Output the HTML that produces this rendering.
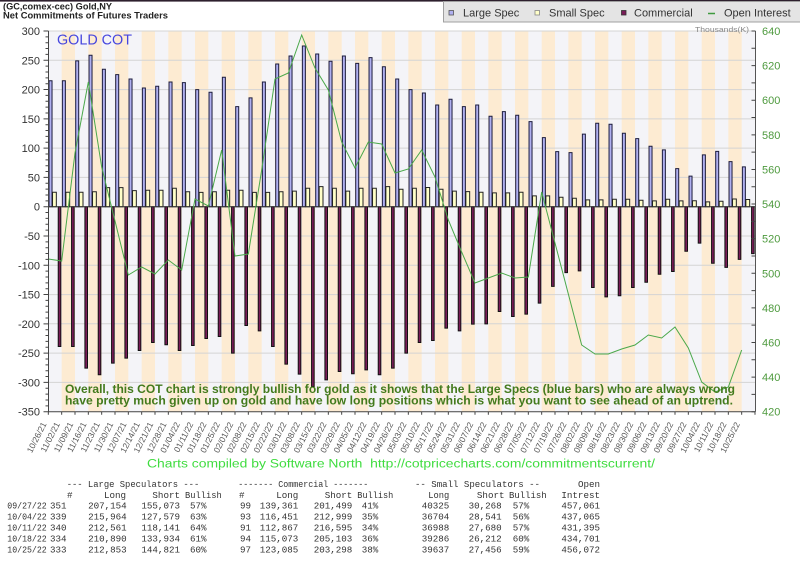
<!DOCTYPE html>
<html><head><meta charset="utf-8"><style>
html,body{margin:0;padding:0;background:#fff;}
svg{display:block;}
.b{fill:#b0b0f0;stroke:#1c1c3c;stroke-width:1;vector-effect:non-scaling-stroke}
.s{fill:#ffffc8;stroke:#222;stroke-width:1;vector-effect:non-scaling-stroke}
.c{fill:#7a1c58;stroke:#111;stroke-width:1;vector-effect:non-scaling-stroke}
.t{font-family:"Liberation Mono",monospace;font-size:9.2px;fill:#333}
.dl{font-family:"Liberation Sans",sans-serif;font-size:8.5px;fill:#555}
</style></head><body>
<svg width="800" height="562" viewBox="0 0 800 562" xmlns="http://www.w3.org/2000/svg">
<defs>
<pattern id="bd" patternUnits="userSpaceOnUse" x="48.33" y="0" width="26.667" height="562"><rect width="13.334" height="562" fill="#f4f4f8"/><rect x="13.333" width="13.334" height="562" fill="#fdebd2"/></pattern>
</defs>
<rect x="0" y="0" width="800" height="562" fill="#fff"/>
<rect x="0" y="0" width="800" height="1.6" fill="#2d1f2d"/>
<!-- legend -->
<rect x="443.5" y="1.5" width="358" height="20.5" fill="#e4e4e4" stroke="#a0a0a0"/>
<rect x="449" y="10.5" width="4.5" height="4.5" fill="#b0b0f0" stroke="#555" stroke-width="0.8"/>
<text x="463" y="16.5" font-family="Liberation Sans, sans-serif" font-size="11" fill="#333">Large Spec</text>
<rect x="535" y="10.5" width="4.5" height="4.5" fill="#ffffc8" stroke="#888" stroke-width="0.8"/>
<text x="549" y="16.5" font-family="Liberation Sans, sans-serif" font-size="11" fill="#333">Small Spec</text>
<rect x="621.5" y="10.5" width="4.5" height="4.5" fill="#7a1c58" stroke="#333" stroke-width="0.8"/>
<text x="634" y="16.5" font-family="Liberation Sans, sans-serif" font-size="11" fill="#333">Commercial</text>
<line x1="708" y1="13.5" x2="715" y2="13.5" stroke="#3f9a3f" stroke-width="1.5"/>
<text x="724" y="16.5" font-family="Liberation Sans, sans-serif" font-size="11" fill="#333">Open Interest</text>
<!-- titles -->
<text x="3" y="9.5" font-family="Liberation Sans, sans-serif" font-size="9.5" font-weight="bold" fill="#222" textLength="109" lengthAdjust="spacingAndGlyphs">(GC,comex-cec) Gold,NY</text>
<text x="3" y="18.5" font-family="Liberation Sans, sans-serif" font-size="9.5" font-weight="bold" fill="#222" textLength="165" lengthAdjust="spacingAndGlyphs">Net Commitments of Futures Traders</text>
<!-- plot background -->
<rect x="48.33" y="31" width="706.67" height="380.7" fill="url(#bd)"/>
<path d="M48.3 31H755M48.3 60.3H755M48.3 89.6H755M48.3 118.9H755M48.3 148.1H755M48.3 177.4H755M48.3 236H755M48.3 265.3H755M48.3 294.6H755M48.3 323.8H755M48.3 353.1H755M48.3 382.4H755" stroke="#d4d4d4" stroke-width="1" fill="none"/>
<text x="57" y="44.5" font-family="Liberation Sans, sans-serif" font-size="15" fill="#4646de" textLength="75" lengthAdjust="spacingAndGlyphs">GOLD COT</text>
<text x="695" y="32" font-family="Liberation Sans, sans-serif" font-size="7.5" fill="#888" textLength="54" lengthAdjust="spacingAndGlyphs">Thousands(K)</text>
<!-- bars -->
<g transform="translate(48.33 206.7) scale(1 -0.5857)"><rect class="b" x="0.7" y="0" width="3" height="215"/><rect class="s" x="4.2" y="0" width="3.8" height="24.7"/><rect class="c" x="9.9" y="-238.7" width="2.6" height="238.7"/></g>
<g transform="translate(61.67 206.7) scale(1 -0.5857)"><rect class="b" x="0.7" y="0" width="3" height="215"/><rect class="s" x="4.2" y="0" width="3.8" height="24.7"/><rect class="c" x="9.9" y="-238.7" width="2.6" height="238.7"/></g>
<g transform="translate(75 206.7) scale(1 -0.5857)"><rect class="b" x="0.7" y="0" width="3" height="249"/><rect class="s" x="4.2" y="0" width="3.8" height="24.7"/><rect class="c" x="9.9" y="-275.6" width="2.6" height="275.6"/></g>
<g transform="translate(88.33 206.7) scale(1 -0.5857)"><rect class="b" x="0.7" y="0" width="3" height="258.5"/><rect class="s" x="4.2" y="0" width="3.8" height="25.5"/><rect class="c" x="9.9" y="-287" width="2.6" height="287"/></g>
<g transform="translate(101.67 206.7) scale(1 -0.5857)"><rect class="b" x="0.7" y="0" width="3" height="234.6"/><rect class="s" x="4.2" y="0" width="3.8" height="32.6"/><rect class="c" x="9.9" y="-267" width="2.6" height="267"/></g>
<g transform="translate(115 206.7) scale(1 -0.5857)"><rect class="b" x="0.7" y="0" width="3" height="225.5"/><rect class="s" x="4.2" y="0" width="3.8" height="32.6"/><rect class="c" x="9.9" y="-258.5" width="2.6" height="258.5"/></g>
<g transform="translate(128.33 206.7) scale(1 -0.5857)"><rect class="b" x="0.7" y="0" width="3" height="218"/><rect class="s" x="4.2" y="0" width="3.8" height="27.5"/><rect class="c" x="9.9" y="-245.5" width="2.6" height="245.5"/></g>
<g transform="translate(141.67 206.7) scale(1 -0.5857)"><rect class="b" x="0.7" y="0" width="3" height="202.7"/><rect class="s" x="4.2" y="0" width="3.8" height="28"/><rect class="c" x="9.9" y="-231.9" width="2.6" height="231.9"/></g>
<g transform="translate(155 206.7) scale(1 -0.5857)"><rect class="b" x="0.7" y="0" width="3" height="205.6"/><rect class="s" x="4.2" y="0" width="3.8" height="28"/><rect class="c" x="9.9" y="-235.8" width="2.6" height="235.8"/></g>
<g transform="translate(168.33 206.7) scale(1 -0.5857)"><rect class="b" x="0.7" y="0" width="3" height="213"/><rect class="s" x="4.2" y="0" width="3.8" height="31.5"/><rect class="c" x="9.9" y="-245.5" width="2.6" height="245.5"/></g>
<g transform="translate(181.67 206.7) scale(1 -0.5857)"><rect class="b" x="0.7" y="0" width="3" height="211.8"/><rect class="s" x="4.2" y="0" width="3.8" height="25.5"/><rect class="c" x="9.9" y="-237" width="2.6" height="237"/></g>
<g transform="translate(195 206.7) scale(1 -0.5857)"><rect class="b" x="0.7" y="0" width="3" height="199.9"/><rect class="s" x="4.2" y="0" width="3.8" height="24.5"/><rect class="c" x="9.9" y="-225" width="2.6" height="225"/></g>
<g transform="translate(208.33 206.7) scale(1 -0.5857)"><rect class="b" x="0.7" y="0" width="3" height="195.4"/><rect class="s" x="4.2" y="0" width="3.8" height="25.5"/><rect class="c" x="9.9" y="-221.6" width="2.6" height="221.6"/></g>
<g transform="translate(221.67 206.7) scale(1 -0.5857)"><rect class="b" x="0.7" y="0" width="3" height="221"/><rect class="s" x="4.2" y="0" width="3.8" height="28"/><rect class="c" x="9.9" y="-250" width="2.6" height="250"/></g>
<g transform="translate(235 206.7) scale(1 -0.5857)"><rect class="b" x="0.7" y="0" width="3" height="170.8"/><rect class="s" x="4.2" y="0" width="3.8" height="28"/><rect class="c" x="9.9" y="-202.8" width="2.6" height="202.8"/></g>
<g transform="translate(248.33 206.7) scale(1 -0.5857)"><rect class="b" x="0.7" y="0" width="3" height="185.7"/><rect class="s" x="4.2" y="0" width="3.8" height="24.5"/><rect class="c" x="9.9" y="-212" width="2.6" height="212"/></g>
<g transform="translate(261.67 206.7) scale(1 -0.5857)"><rect class="b" x="0.7" y="0" width="3" height="213"/><rect class="s" x="4.2" y="0" width="3.8" height="24.5"/><rect class="c" x="9.9" y="-238.7" width="2.6" height="238.7"/></g>
<g transform="translate(275 206.7) scale(1 -0.5857)"><rect class="b" x="0.7" y="0" width="3" height="243.7"/><rect class="s" x="4.2" y="0" width="3.8" height="25.5"/><rect class="c" x="9.9" y="-268.8" width="2.6" height="268.8"/></g>
<g transform="translate(288.33 206.7) scale(1 -0.5857)"><rect class="b" x="0.7" y="0" width="3" height="257.3"/><rect class="s" x="4.2" y="0" width="3.8" height="26.5"/><rect class="c" x="9.9" y="-285.8" width="2.6" height="285.8"/></g>
<g transform="translate(301.67 206.7) scale(1 -0.5857)"><rect class="b" x="0.7" y="0" width="3" height="274.4"/><rect class="s" x="4.2" y="0" width="3.8" height="31.5"/><rect class="c" x="9.9" y="-307" width="2.6" height="307"/></g>
<g transform="translate(315 206.7) scale(1 -0.5857)"><rect class="b" x="0.7" y="0" width="3" height="260.8"/><rect class="s" x="4.2" y="0" width="3.8" height="34.3"/><rect class="c" x="9.9" y="-295.6" width="2.6" height="295.6"/></g>
<g transform="translate(328.33 206.7) scale(1 -0.5857)"><rect class="b" x="0.7" y="0" width="3" height="248.3"/><rect class="s" x="4.2" y="0" width="3.8" height="31.5"/><rect class="c" x="9.9" y="-281.4" width="2.6" height="281.4"/></g>
<g transform="translate(341.67 206.7) scale(1 -0.5857)"><rect class="b" x="0.7" y="0" width="3" height="257.3"/><rect class="s" x="4.2" y="0" width="3.8" height="26.5"/><rect class="c" x="9.9" y="-285.3" width="2.6" height="285.3"/></g>
<g transform="translate(355 206.7) scale(1 -0.5857)"><rect class="b" x="0.7" y="0" width="3" height="244.8"/><rect class="s" x="4.2" y="0" width="3.8" height="31.5"/><rect class="c" x="9.9" y="-278.5" width="2.6" height="278.5"/></g>
<g transform="translate(368.33 206.7) scale(1 -0.5857)"><rect class="b" x="0.7" y="0" width="3" height="254.5"/><rect class="s" x="4.2" y="0" width="3.8" height="31.5"/><rect class="c" x="9.9" y="-287" width="2.6" height="287"/></g>
<g transform="translate(381.67 206.7) scale(1 -0.5857)"><rect class="b" x="0.7" y="0" width="3" height="239"/><rect class="s" x="4.2" y="0" width="3.8" height="34.3"/><rect class="c" x="9.9" y="-275.6" width="2.6" height="275.6"/></g>
<g transform="translate(395 206.7) scale(1 -0.5857)"><rect class="b" x="0.7" y="0" width="3" height="218"/><rect class="s" x="4.2" y="0" width="3.8" height="29.8"/><rect class="c" x="9.9" y="-250" width="2.6" height="250"/></g>
<g transform="translate(408.33 206.7) scale(1 -0.5857)"><rect class="b" x="0.7" y="0" width="3" height="199.9"/><rect class="s" x="4.2" y="0" width="3.8" height="31.5"/><rect class="c" x="9.9" y="-231.9" width="2.6" height="231.9"/></g>
<g transform="translate(421.67 206.7) scale(1 -0.5857)"><rect class="b" x="0.7" y="0" width="3" height="194.2"/><rect class="s" x="4.2" y="0" width="3.8" height="32.8"/><rect class="c" x="9.9" y="-228.5" width="2.6" height="228.5"/></g>
<g transform="translate(435 206.7) scale(1 -0.5857)"><rect class="b" x="0.7" y="0" width="3" height="173.7"/><rect class="s" x="4.2" y="0" width="3.8" height="29.8"/><rect class="c" x="9.9" y="-207.4" width="2.6" height="207.4"/></g>
<g transform="translate(448.33 206.7) scale(1 -0.5857)"><rect class="b" x="0.7" y="0" width="3" height="183.4"/><rect class="s" x="4.2" y="0" width="3.8" height="26.5"/><rect class="c" x="9.9" y="-212" width="2.6" height="212"/></g>
<g transform="translate(461.67 206.7) scale(1 -0.5857)"><rect class="b" x="0.7" y="0" width="3" height="170.8"/><rect class="s" x="4.2" y="0" width="3.8" height="25.8"/><rect class="c" x="9.9" y="-200.5" width="2.6" height="200.5"/></g>
<g transform="translate(475 206.7) scale(1 -0.5857)"><rect class="b" x="0.7" y="0" width="3" height="173.7"/><rect class="s" x="4.2" y="0" width="3.8" height="24.7"/><rect class="c" x="9.9" y="-200" width="2.6" height="200"/></g>
<g transform="translate(488.33 206.7) scale(1 -0.5857)"><rect class="b" x="0.7" y="0" width="3" height="154.4"/><rect class="s" x="4.2" y="0" width="3.8" height="23.5"/><rect class="c" x="9.9" y="-179" width="2.6" height="179"/></g>
<g transform="translate(501.67 206.7) scale(1 -0.5857)"><rect class="b" x="0.7" y="0" width="3" height="162.3"/><rect class="s" x="4.2" y="0" width="3.8" height="23.5"/><rect class="c" x="9.9" y="-187.5" width="2.6" height="187.5"/></g>
<g transform="translate(515 206.7) scale(1 -0.5857)"><rect class="b" x="0.7" y="0" width="3" height="156.1"/><rect class="s" x="4.2" y="0" width="3.8" height="24.7"/><rect class="c" x="9.9" y="-183.5" width="2.6" height="183.5"/></g>
<g transform="translate(528.33 206.7) scale(1 -0.5857)"><rect class="b" x="0.7" y="0" width="3" height="145.3"/><rect class="s" x="4.2" y="0" width="3.8" height="18.4"/><rect class="c" x="9.9" y="-164.7" width="2.6" height="164.7"/></g>
<g transform="translate(541.67 206.7) scale(1 -0.5857)"><rect class="b" x="0.7" y="0" width="3" height="118"/><rect class="s" x="4.2" y="0" width="3.8" height="18.4"/><rect class="c" x="9.9" y="-136" width="2.6" height="136"/></g>
<g transform="translate(555 206.7) scale(1 -0.5857)"><rect class="b" x="0.7" y="0" width="3" height="94"/><rect class="s" x="4.2" y="0" width="3.8" height="16.2"/><rect class="c" x="9.9" y="-112.5" width="2.6" height="112.5"/></g>
<g transform="translate(568.33 206.7) scale(1 -0.5857)"><rect class="b" x="0.7" y="0" width="3" height="92.3"/><rect class="s" x="4.2" y="0" width="3.8" height="14.5"/><rect class="c" x="9.9" y="-109.6" width="2.6" height="109.6"/></g>
<g transform="translate(581.67 206.7) scale(1 -0.5857)"><rect class="b" x="0.7" y="0" width="3" height="124"/><rect class="s" x="4.2" y="0" width="3.8" height="11.6"/><rect class="c" x="9.9" y="-138" width="2.6" height="138"/></g>
<g transform="translate(595 206.7) scale(1 -0.5857)"><rect class="b" x="0.7" y="0" width="3" height="142.4"/><rect class="s" x="4.2" y="0" width="3.8" height="11.6"/><rect class="c" x="9.9" y="-154" width="2.6" height="154"/></g>
<g transform="translate(608.33 206.7) scale(1 -0.5857)"><rect class="b" x="0.7" y="0" width="3" height="140.7"/><rect class="s" x="4.2" y="0" width="3.8" height="12.7"/><rect class="c" x="9.9" y="-152" width="2.6" height="152"/></g>
<g transform="translate(621.67 206.7) scale(1 -0.5857)"><rect class="b" x="0.7" y="0" width="3" height="125.4"/><rect class="s" x="4.2" y="0" width="3.8" height="12.7"/><rect class="c" x="9.9" y="-138" width="2.6" height="138"/></g>
<g transform="translate(635 206.7) scale(1 -0.5857)"><rect class="b" x="0.7" y="0" width="3" height="116.3"/><rect class="s" x="4.2" y="0" width="3.8" height="11"/><rect class="c" x="9.9" y="-129" width="2.6" height="129"/></g>
<g transform="translate(648.33 206.7) scale(1 -0.5857)"><rect class="b" x="0.7" y="0" width="3" height="103.2"/><rect class="s" x="4.2" y="0" width="3.8" height="10"/><rect class="c" x="9.9" y="-115.3" width="2.6" height="115.3"/></g>
<g transform="translate(661.67 206.7) scale(1 -0.5857)"><rect class="b" x="0.7" y="0" width="3" height="97"/><rect class="s" x="4.2" y="0" width="3.8" height="12.7"/><rect class="c" x="9.9" y="-110.7" width="2.6" height="110.7"/></g>
<g transform="translate(675 206.7) scale(1 -0.5857)"><rect class="b" x="0.7" y="0" width="3" height="65"/><rect class="s" x="4.2" y="0" width="3.8" height="10"/><rect class="c" x="9.9" y="-76" width="2.6" height="76"/></g>
<g transform="translate(688.33 206.7) scale(1 -0.5857)"><rect class="b" x="0.7" y="0" width="3" height="52.1"/><rect class="s" x="4.2" y="0" width="3.8" height="10.1"/><rect class="c" x="9.9" y="-62.1" width="2.6" height="62.1"/></g>
<g transform="translate(701.67 206.7) scale(1 -0.5857)"><rect class="b" x="0.7" y="0" width="3" height="88.4"/><rect class="s" x="4.2" y="0" width="3.8" height="8.2"/><rect class="c" x="9.9" y="-96.5" width="2.6" height="96.5"/></g>
<g transform="translate(715 206.7) scale(1 -0.5857)"><rect class="b" x="0.7" y="0" width="3" height="94.4"/><rect class="s" x="4.2" y="0" width="3.8" height="9.3"/><rect class="c" x="9.9" y="-103.7" width="2.6" height="103.7"/></g>
<g transform="translate(728.33 206.7) scale(1 -0.5857)"><rect class="b" x="0.7" y="0" width="3" height="77"/><rect class="s" x="4.2" y="0" width="3.8" height="13.1"/><rect class="c" x="9.9" y="-90" width="2.6" height="90"/></g>
<g transform="translate(741.67 206.7) scale(1 -0.5857)"><rect class="b" x="0.7" y="0" width="3" height="68"/><rect class="s" x="4.2" y="0" width="3.8" height="12.2"/><rect class="c" x="9.9" y="-80.2" width="2.6" height="80.2"/></g>
<!-- zero line -->
<line x1="48.3" y1="206.7" x2="755" y2="206.7" stroke="#333" stroke-width="1"/>
<!-- open interest -->
<polyline fill="none" stroke="#4aa84a" stroke-width="1" points="48.33,259 61.67,261 75,153 88.33,82 101.67,167 115,221 128.33,275 141.67,267 155,274 168.33,260 181.67,270 195,199 208.33,206 221.67,150 235,256 248.33,254 261.67,170 275,79 288.33,73 301.67,35 315,68 328.33,90 341.67,142 355,168 368.33,142 381.67,144 395,173 408.33,169 421.67,150 435,177 448.33,220 461.67,252 475,283 488.33,278 501.67,273 515,278 528.33,277 541.67,192 555,243 568.33,294 581.67,345 595,354 608.33,354 621.67,349 635,345 648.33,335 661.67,338 675,327 688.33,348 701.67,382 715,392 728.33,387 741.67,350"/>
<!-- overlay text -->
<text x="65" y="393" font-family="Liberation Sans, sans-serif" font-size="12" font-weight="bold" fill="#437a1d" textLength="670" lengthAdjust="spacingAndGlyphs">Overall, this COT chart is strongly bullish for gold as it shows that the Large Specs (blue bars) who are always wrong</text>
<text x="65" y="404.5" font-family="Liberation Sans, sans-serif" font-size="12" font-weight="bold" fill="#437a1d" textLength="668" lengthAdjust="spacingAndGlyphs">have pretty much given up on gold and have low long positions which is what you want to see ahead of an uptrend.</text>
<!-- axes -->
<line x1="48.5" y1="31" x2="48.5" y2="411.7" stroke="#444" stroke-width="1"/>
<line x1="48.3" y1="411.7" x2="755.5" y2="411.7" stroke="#444" stroke-width="1"/>
<line x1="755.5" y1="31" x2="755.5" y2="411.7" stroke="#555" stroke-width="1"/>
<g transform="translate(48.5 206.7) scale(1 -0.5857)"><path fill="none" stroke="#444" stroke-width="1" vector-effect="non-scaling-stroke" d="M-5 300h5M-3 290h3M-3 280h3M-3 270h3M-3 260h3M-5 250h5M-3 240h3M-3 230h3M-3 220h3M-3 210h3M-5 200h5M-3 190h3M-3 180h3M-3 170h3M-3 160h3M-5 150h5M-3 140h3M-3 130h3M-3 120h3M-3 110h3M-5 100h5M-3 90h3M-3 80h3M-3 70h3M-3 60h3M-5 50h5M-3 40h3M-3 30h3M-3 20h3M-3 10h3M-5 0h5M-3 -10h3M-3 -20h3M-3 -30h3M-3 -40h3M-5 -50h5M-3 -60h3M-3 -70h3M-3 -80h3M-3 -90h3M-5 -100h5M-3 -110h3M-3 -120h3M-3 -130h3M-3 -140h3M-5 -150h5M-3 -160h3M-3 -170h3M-3 -180h3M-3 -190h3M-5 -200h5M-3 -210h3M-3 -220h3M-3 -230h3M-3 -240h3M-5 -250h5M-3 -260h3M-3 -270h3M-3 -280h3M-3 -290h3M-5 -300h5M-3 -310h3M-3 -320h3M-3 -330h3M-3 -340h3M-5 -350h5"/></g>
<g transform="translate(755.5 31) scale(1 1.7305)"><path fill="none" stroke="#444" stroke-width="1" vector-effect="non-scaling-stroke" d="M-4 0h4M-4 10h4M-4 20h4M-4 30h4M-4 40h4M-4 50h4M-4 60h4M-4 70h4M-4 80h4M-4 90h4M-4 100h4M-4 110h4M-4 120h4M-4 130h4M-4 140h4M-4 150h4M-4 160h4M-4 170h4M-4 180h4M-4 190h4M-4 200h4M-4 210h4M-4 220h4"/></g>
<path fill="none" stroke="#444" stroke-width="1" d="M48.33 411.7v3M61.67 411.7v3M75 411.7v3M88.33 411.7v3M101.67 411.7v3M115 411.7v3M128.33 411.7v3M141.67 411.7v3M155 411.7v3M168.33 411.7v3M181.67 411.7v3M195 411.7v3M208.33 411.7v3M221.67 411.7v3M235 411.7v3M248.33 411.7v3M261.67 411.7v3M275 411.7v3M288.33 411.7v3M301.67 411.7v3M315 411.7v3M328.33 411.7v3M341.67 411.7v3M355 411.7v3M368.33 411.7v3M381.67 411.7v3M395 411.7v3M408.33 411.7v3M421.67 411.7v3M435 411.7v3M448.33 411.7v3M461.67 411.7v3M475 411.7v3M488.33 411.7v3M501.67 411.7v3M515 411.7v3M528.33 411.7v3M541.67 411.7v3M555 411.7v3M568.33 411.7v3M581.67 411.7v3M595 411.7v3M608.33 411.7v3M621.67 411.7v3M635 411.7v3M648.33 411.7v3M661.67 411.7v3M675 411.7v3M688.33 411.7v3M701.67 411.7v3M715 411.7v3M728.33 411.7v3M741.67 411.7v3M755 411.7v3"/>
<!-- left labels -->
<g font-family="Liberation Sans, sans-serif" font-size="11" fill="#333" text-anchor="end">
<text x="40" y="35">300</text><text x="40" y="64.3">250</text><text x="40" y="93.6">200</text><text x="40" y="122.9">150</text><text x="40" y="152.1">100</text><text x="40" y="181.4">50</text><text x="40" y="210.7">0</text><text x="40" y="240">-50</text><text x="40" y="269.3">-100</text><text x="40" y="298.6">-150</text><text x="40" y="327.8">-200</text><text x="40" y="357.1">-250</text><text x="40" y="386.4">-300</text><text x="40" y="415.7">-350</text>
</g>
<!-- right labels -->
<g font-family="Liberation Sans, sans-serif" font-size="11" fill="#4e9a3e">
<text x="762" y="35">640</text><text x="762" y="69.6">620</text><text x="762" y="104.2">600</text><text x="762" y="138.8">580</text><text x="762" y="173.4">560</text><text x="762" y="208.1">540</text><text x="762" y="242.7">520</text><text x="762" y="277.3">500</text><text x="762" y="311.9">480</text><text x="762" y="346.5">460</text><text x="762" y="381.1">440</text><text x="762" y="415.7">420</text>
</g>
<!-- date labels -->
<g class="dl" text-anchor="end">
<text transform="translate(46.8 424) rotate(-63)">10/26/21</text>
<text transform="translate(60.2 424) rotate(-63)">11/02/21</text>
<text transform="translate(73.5 424) rotate(-63)">11/09/21</text>
<text transform="translate(86.8 424) rotate(-63)">11/16/21</text>
<text transform="translate(100.2 424) rotate(-63)">11/23/21</text>
<text transform="translate(113.5 424) rotate(-63)">11/30/21</text>
<text transform="translate(126.8 424) rotate(-63)">12/07/21</text>
<text transform="translate(140.2 424) rotate(-63)">12/14/21</text>
<text transform="translate(153.5 424) rotate(-63)">12/21/21</text>
<text transform="translate(166.8 424) rotate(-63)">12/28/21</text>
<text transform="translate(180.2 424) rotate(-63)">01/04/22</text>
<text transform="translate(193.5 424) rotate(-63)">01/11/22</text>
<text transform="translate(206.8 424) rotate(-63)">01/18/22</text>
<text transform="translate(220.2 424) rotate(-63)">01/25/22</text>
<text transform="translate(233.5 424) rotate(-63)">02/01/22</text>
<text transform="translate(246.8 424) rotate(-63)">02/08/22</text>
<text transform="translate(260.2 424) rotate(-63)">02/15/22</text>
<text transform="translate(273.5 424) rotate(-63)">02/22/22</text>
<text transform="translate(286.8 424) rotate(-63)">03/01/22</text>
<text transform="translate(300.2 424) rotate(-63)">03/08/22</text>
<text transform="translate(313.5 424) rotate(-63)">03/15/22</text>
<text transform="translate(326.8 424) rotate(-63)">03/22/22</text>
<text transform="translate(340.2 424) rotate(-63)">03/29/22</text>
<text transform="translate(353.5 424) rotate(-63)">04/05/22</text>
<text transform="translate(366.8 424) rotate(-63)">04/12/22</text>
<text transform="translate(380.2 424) rotate(-63)">04/19/22</text>
<text transform="translate(393.5 424) rotate(-63)">04/26/22</text>
<text transform="translate(406.8 424) rotate(-63)">05/03/22</text>
<text transform="translate(420.2 424) rotate(-63)">05/10/22</text>
<text transform="translate(433.5 424) rotate(-63)">05/17/22</text>
<text transform="translate(446.8 424) rotate(-63)">05/24/22</text>
<text transform="translate(460.2 424) rotate(-63)">05/31/22</text>
<text transform="translate(473.5 424) rotate(-63)">06/07/22</text>
<text transform="translate(486.8 424) rotate(-63)">06/14/22</text>
<text transform="translate(500.2 424) rotate(-63)">06/21/22</text>
<text transform="translate(513.5 424) rotate(-63)">06/28/22</text>
<text transform="translate(526.8 424) rotate(-63)">07/05/22</text>
<text transform="translate(540.2 424) rotate(-63)">07/12/22</text>
<text transform="translate(553.5 424) rotate(-63)">07/19/22</text>
<text transform="translate(566.8 424) rotate(-63)">07/26/22</text>
<text transform="translate(580.2 424) rotate(-63)">08/02/22</text>
<text transform="translate(593.5 424) rotate(-63)">08/09/22</text>
<text transform="translate(606.8 424) rotate(-63)">08/16/22</text>
<text transform="translate(620.2 424) rotate(-63)">08/23/22</text>
<text transform="translate(633.5 424) rotate(-63)">08/30/22</text>
<text transform="translate(646.8 424) rotate(-63)">09/06/22</text>
<text transform="translate(660.2 424) rotate(-63)">09/13/22</text>
<text transform="translate(673.5 424) rotate(-63)">09/20/22</text>
<text transform="translate(686.8 424) rotate(-63)">09/27/22</text>
<text transform="translate(700.2 424) rotate(-63)">10/04/22</text>
<text transform="translate(713.5 424) rotate(-63)">10/11/22</text>
<text transform="translate(726.8 424) rotate(-63)">10/18/22</text>
<text transform="translate(740.2 424) rotate(-63)">10/25/22</text>
</g>
<!-- credits -->
<text x="147" y="467.5" font-family="Liberation Sans, sans-serif" font-size="11.5" fill="#3fdc3f" textLength="508" lengthAdjust="spacingAndGlyphs">Charts compiled by Software North&#160; http://cotpricecharts.com/commitmentscurrent/</text>
<!-- table -->
<g class="t">
<text x="66.7" y="487" textLength="132.6" lengthAdjust="spacingAndGlyphs">--- Large Speculators ---</text>
<text x="238.3" y="487" textLength="130" lengthAdjust="spacingAndGlyphs">------- Commercial -------</text>
<text x="415" y="487" textLength="125" lengthAdjust="spacingAndGlyphs">-- Small Speculators --</text>
<text x="600" y="487" text-anchor="end">Open</text>
<text x="67" y="498">#</text>
<text x="126" y="498" text-anchor="end">Long</text>
<text x="180" y="498" text-anchor="end">Short</text>
<text x="185" y="498" textLength="36.7" lengthAdjust="spacingAndGlyphs">Bullish</text>
<text x="239" y="498">#</text>
<text x="298.3" y="498" text-anchor="end">Long</text>
<text x="352.3" y="498" text-anchor="end">Short</text>
<text x="357.3" y="498" textLength="36" lengthAdjust="spacingAndGlyphs">Bullish</text>
<text x="428.3" y="498" textLength="21" lengthAdjust="spacingAndGlyphs">Long</text>
<text x="504.5" y="498" text-anchor="end">Short</text>
<text x="509" y="498" textLength="37.7" lengthAdjust="spacingAndGlyphs">Bullish</text>
<text x="600" y="498" text-anchor="end">Intrest</text>

<text x="7.3" y="508.5" textLength="39.4" lengthAdjust="spacingAndGlyphs">09/27/22</text><text x="50" y="508.5">351</text><text x="126.7" y="508.5" text-anchor="end">207,154</text><text x="180" y="508.5" text-anchor="end">155,073</text><text x="190" y="508.5">57%</text><text x="240" y="508.5">99</text><text x="298.3" y="508.5" text-anchor="end">139,361</text><text x="352.3" y="508.5" text-anchor="end">201,499</text><text x="361.7" y="508.5">41%</text><text x="421.7" y="508.5">40325</text><text x="501.7" y="508.5" text-anchor="end">30,268</text><text x="512.7" y="508.5">57%</text><text x="600" y="508.5" text-anchor="end">457,061</text>

<text x="7.3" y="519.5" textLength="39.4" lengthAdjust="spacingAndGlyphs">10/04/22</text><text x="50" y="519.5">339</text><text x="126.7" y="519.5" text-anchor="end">215,964</text><text x="180" y="519.5" text-anchor="end">127,579</text><text x="190" y="519.5">63%</text><text x="240" y="519.5">93</text><text x="298.3" y="519.5" text-anchor="end">116,451</text><text x="352.3" y="519.5" text-anchor="end">212,999</text><text x="361.7" y="519.5">35%</text><text x="421.7" y="519.5">36704</text><text x="501.7" y="519.5" text-anchor="end">28,541</text><text x="512.7" y="519.5">56%</text><text x="600" y="519.5" text-anchor="end">437,065</text>

<text x="7.3" y="530.5" textLength="39.4" lengthAdjust="spacingAndGlyphs">10/11/22</text><text x="50" y="530.5">340</text><text x="126.7" y="530.5" text-anchor="end">212,561</text><text x="180" y="530.5" text-anchor="end">118,141</text><text x="190" y="530.5">64%</text><text x="240" y="530.5">91</text><text x="298.3" y="530.5" text-anchor="end">112,867</text><text x="352.3" y="530.5" text-anchor="end">216,595</text><text x="361.7" y="530.5">34%</text><text x="421.7" y="530.5">36988</text><text x="501.7" y="530.5" text-anchor="end">27,680</text><text x="512.7" y="530.5">57%</text><text x="600" y="530.5" text-anchor="end">431,395</text>

<text x="7.3" y="541.5" textLength="39.4" lengthAdjust="spacingAndGlyphs">10/18/22</text><text x="50" y="541.5">334</text><text x="126.7" y="541.5" text-anchor="end">210,890</text><text x="180" y="541.5" text-anchor="end">133,934</text><text x="190" y="541.5">61%</text><text x="240" y="541.5">94</text><text x="298.3" y="541.5" text-anchor="end">115,073</text><text x="352.3" y="541.5" text-anchor="end">205,103</text><text x="361.7" y="541.5">36%</text><text x="421.7" y="541.5">39286</text><text x="501.7" y="541.5" text-anchor="end">26,212</text><text x="512.7" y="541.5">60%</text><text x="600" y="541.5" text-anchor="end">434,701</text>

<text x="7.3" y="552.5" textLength="39.4" lengthAdjust="spacingAndGlyphs">10/25/22</text><text x="50" y="552.5">333</text><text x="126.7" y="552.5" text-anchor="end">212,853</text><text x="180" y="552.5" text-anchor="end">144,821</text><text x="190" y="552.5">60%</text><text x="240" y="552.5">97</text><text x="298.3" y="552.5" text-anchor="end">123,085</text><text x="352.3" y="552.5" text-anchor="end">203,298</text><text x="361.7" y="552.5">38%</text><text x="421.7" y="552.5">39637</text><text x="501.7" y="552.5" text-anchor="end">27,456</text><text x="512.7" y="552.5">59%</text><text x="600" y="552.5" text-anchor="end">456,072</text>
</g>
</svg>
</body></html>
